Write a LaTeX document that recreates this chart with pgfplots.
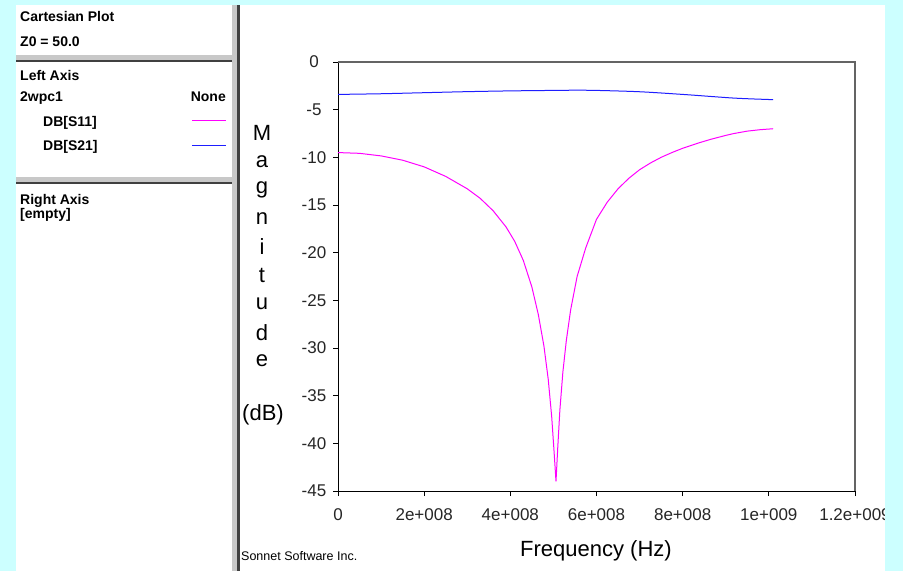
\documentclass[border=0pt]{standalone}
\usepackage{pgfplots}
\pgfplotsset{compat=1.18}
\usepackage{fontspec}
\setmainfont{Liberation Sans}
\definecolor{bgcyan}{RGB}{204,255,255}
\definecolor{sepdark}{RGB}{64,64,64}
\definecolor{seplight}{RGB}{200,200,200}
\definecolor{smag}{RGB}{255,0,255}
\definecolor{sblue}{RGB}{30,30,255}
\definecolor{boxgray}{RGB}{100,100,100}
\begin{document}
\begin{tikzpicture}[x=1pt,y=1pt]
\path[use as bounding box] (0,0) rectangle (903,571);
\fill[bgcyan] (0,0) rectangle (903,571);
\fill[white] (16,0) rectangle (885,566);
% vertical splitter
\fill[seplight] (232,0) rectangle (237,566);
\fill[sepdark] (237,0) rectangle (239.5,566);
% horizontal separators
\fill[seplight] (16,509) rectangle (232,516);
\fill[sepdark] (16,509) rectangle (232,511);
\fill[seplight] (16,387) rectangle (232,394);
\fill[sepdark] (16,387) rectangle (232,389);
% left panel text
\begin{scope}[every node/.style={inner sep=0pt,font=\fontsize{14}{14}\selectfont\bfseries}]
\node[anchor=base west] at (20,549) {Cartesian Plot};
\node[anchor=base west] at (20,524.3) {Z0 = 50.0};
\node[anchor=base west] at (20,490) {Left Axis};
\node[anchor=base west] at (20,469) {2wpc1};
\node[anchor=base east] at (226,469) {None};
\node[anchor=base west] at (43,444) {DB[S11]};
\node[anchor=base west] at (43,420) {DB[S21]};
\node[anchor=base west] at (20,366) {Right Axis};
\node[anchor=base west] at (20,352) {[empty]};
\end{scope}
\draw[smag,line width=1pt] (192,450.3) -- (226,450.3);
\draw[sblue,line width=1pt] (192,425.5) -- (226,425.5);
\begin{axis}[
  at={(338pt,80pt)}, anchor=south west,
  scale only axis, width=517pt, height=429pt,
  xmin=0, xmax=1.2e9, ymin=-45, ymax=0,
  axis x line*=bottom, axis y line*=left,
  axis line style={black, line width=1pt},
  tick align=outside, major tick length=5pt,
  tick style={black, line width=1pt},
  xtick={0,2e8,4e8,6e8,8e8,1e9,1.2e9},
  xticklabels={0,2e+008,4e+008,6e+008,8e+008,1e+009,1.2e+009},
  ytick={0,-5,-10,-15,-20,-25,-30,-35,-40,-45},
  yticklabels={0,-5,-10,-15,-20,-25,-30,-35,-40,-45},
  tick label style={font=\fontsize{17}{17}\selectfont, text=black!85},
  yticklabel style={anchor=center, xshift=-19pt},
  xticklabel style={yshift=-9pt},
  scaled x ticks=false,
  clip=false,
]
\draw[boxgray, line width=1.5pt] (rel axis cs:0,1) -- (rel axis cs:1,1) -- (rel axis cs:1,0);
\addplot[smag, line width=1pt] table {
0      -9.50
0.5e8  -9.58
1.0e8  -9.85
1.5e8  -10.3
2.0e8  -11.0
2.5e8  -12.0
3.0e8  -13.3
3.3e8  -14.3
3.6e8  -15.6
3.9e8  -17.3
4.1e8  -18.8
4.3e8  -20.8
4.5e8  -23.6
4.65e8 -26.5
4.78e8 -29.8
4.88e8 -33.3
4.96e8 -37.2
5.02e8 -41.2
5.06e8 -44.0
5.10e8 -40.5
5.15e8 -36.5
5.22e8 -32.5
5.30e8 -29.2
5.40e8 -26.0
5.55e8 -22.5
5.75e8 -19.5
6.0e8  -16.5
6.25e8 -14.7
6.5e8  -13.3
6.75e8 -12.2
7.0e8  -11.3
7.25e8 -10.6
7.5e8  -10.0
7.75e8 -9.5
8.0e8  -9.05
8.4e8  -8.45
8.66e8 -8.1
9.0e8  -7.7
9.17e8 -7.52
9.5e8  -7.25
9.8e8  -7.1
1.01e9 -7.0
};
\addplot[sblue, line width=1pt, smooth] table {
0      -3.40
1.0e8  -3.33
2.0e8  -3.22
3.0e8  -3.11
4.0e8  -3.03
5.0e8  -2.98
5.5e8  -2.96
6.0e8  -2.98
7.0e8  -3.12
8.0e8  -3.40
8.67e8 -3.62
9.17e8 -3.78
9.6e8  -3.87
1.01e9 -3.95
};
\end{axis}
\fill[bgcyan] (885,0) rectangle (903,571);
\node[anchor=center, inner sep=0pt, font=\fontsize{22}{22}\selectfont] at (596,20) {Frequency (Hz)};
\node[anchor=base west, inner sep=0pt, font=\fontsize{12.5}{12.5}\selectfont] at (241,11) {Sonnet Software Inc.};
\begin{scope}[every node/.style={anchor=center, inner sep=0pt, font=\fontsize{22}{22}\selectfont}]
\node at (262,438) {M};
\node at (262,409.5) {a};
\node at (262,381) {g};
\node at (262,352.5) {n};
\node at (262,324) {i};
\node at (262,295.5) {t};
\node at (262,267) {u};
\node at (262,238.5) {d};
\node at (262,210) {e};
\node at (263,156) {(dB)};
\end{scope}
\end{tikzpicture}
\end{document}
